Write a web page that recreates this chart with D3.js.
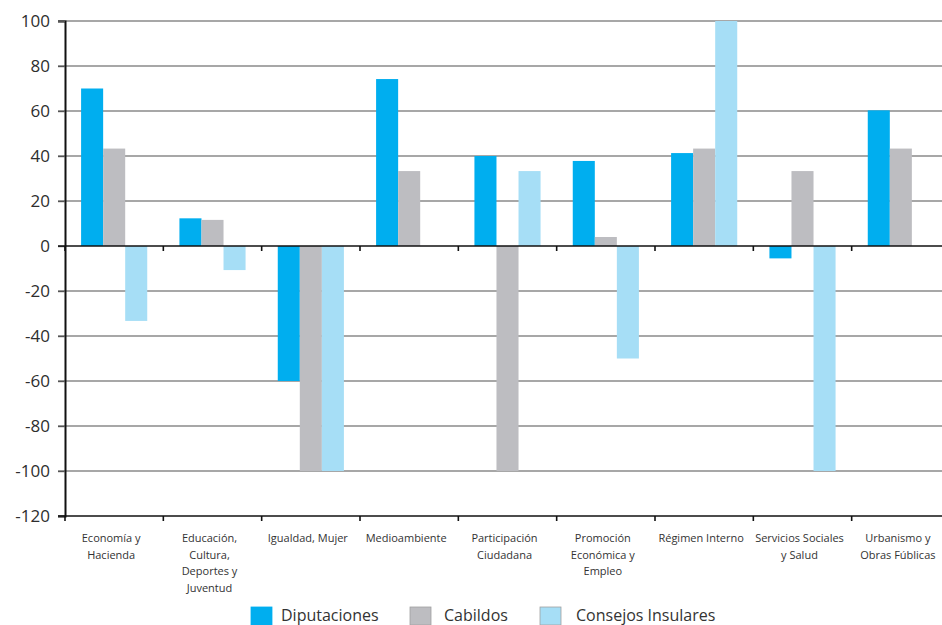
<!DOCTYPE html>
<html>
<head>
<meta charset="utf-8">
<script src="https://cdn.jsdelivr.net/npm/d3@7"></script>
<style>
  html, body { margin: 0; padding: 0; background: #fff; }
  svg { display: block; font-family: "Open Sans", "Liberation Sans", sans-serif; }
</style>
</head>
<body>
<svg id="chart" width="942" height="625"></svg>
<script>
// Categories (each entry is a list of label lines)
const categories = [
  ["Economía y", "Hacienda"],
  ["Educación,", "Cultura,", "Deportes y", "Juventud"],
  ["Igualdad, Mujer"],
  ["Medioambiente"],
  ["Participación", "Ciudadana"],
  ["Promoción", "Económica y", "Empleo"],
  ["Régimen Interno"],
  ["Servicios Sociales", "y Salud"],
  ["Urbanismo y", "Obras Fúblicas"]
];
const seriesNames = ["Diputaciones", "Cabildos", "Consejos Insulares"];
const diputaciones = [70, 12.3, -60, 74.2, 40, 37.8, 41.3, -5.5, 60.3];
const cabildos     = [43.3, 11.6, -100, 33.3, -100, 4, 43.3, 33.3, 43.3];
const consejos     = [-33.3, -10.7, -100, null, 33.3, -50, 100, -100, null];
const yTicks = [-120, -100, -80, -60, -40, -20, 0, 20, 40, 60, 80, 100];

const seriesValues = [diputaciones, cabildos, consejos];
const colors = ["#00aeef", "#bdbdc1", "#a6def6"];

const svg = d3.select("#chart");
const mLeft = 65, mRight = 950, mTop = 21, mBottom = 516;

const x = d3.scaleBand().domain(d3.range(categories.length)).range([mLeft, mRight]).padding(0);
const xs = d3.scaleBand().domain(seriesNames).range([0, x.bandwidth()]).paddingInner(0).paddingOuter(0.73);
const y = d3.scaleLinear().domain([-120, 100]).range([mBottom, mTop]);

// Horizontal gridlines
svg.append("g").selectAll("line")
  .data(yTicks.filter(t => t !== 0 && t !== -120))
  .join("line")
  .attr("x1", mLeft - 7).attr("x2", 942)
  .attr("y1", d => y(d)).attr("y2", d => y(d))
  .attr("stroke", "#8a8a8a").attr("stroke-width", 1.4);

// Bars
const rows = [];
categories.forEach((c, i) => seriesNames.forEach((s, j) => {
  const v = seriesValues[j][i];
  if (v !== null) rows.push({ i, s, j, v });
}));
svg.append("g").selectAll("rect")
  .data(rows)
  .join("rect")
  .attr("x", d => x(d.i) + xs(d.s))
  .attr("width", xs.bandwidth())
  .attr("y", d => y(Math.max(0, d.v)))
  .attr("height", d => Math.abs(y(d.v) - y(0)))
  .attr("fill", d => colors[d.j]);

// Y axis (plain hyphen for negatives)
const yAxis = d3.axisLeft(y).tickValues(yTicks).tickSize(7).tickPadding(8).tickFormat(d => String(d));
const gy = svg.append("g").attr("transform", `translate(${mLeft},0)`).call(yAxis);
gy.select(".domain").attr("stroke", "#111").attr("stroke-width", 2);
gy.selectAll(".tick line").attr("stroke", "#555").attr("stroke-width", 1.4);
gy.selectAll(".tick text").attr("fill", "#2e2e2e").style("font-size", "17px")
  .style("font-family", "'Open Sans', sans-serif");

// Zero line and bottom line with category-boundary ticks
const boundaries = d3.range(categories.length).map(i => x(i)).concat([mRight]);
[0, -120].forEach(v => {
  const g = svg.append("g");
  g.append("line").attr("x1", mLeft - 7).attr("x2", 942)
    .attr("y1", y(v)).attr("y2", y(v))
    .attr("stroke", "#111").attr("stroke-width", 1.6);
  g.selectAll("line.tk").data(boundaries).join("line").attr("class", "tk")
    .attr("x1", d => d).attr("x2", d => d)
    .attr("y1", y(v)).attr("y2", y(v) + 5)
    .attr("stroke", "#111").attr("stroke-width", 1.6);
});

// Category labels
const lab = svg.append("g").selectAll("text")
  .data(categories)
  .join("text")
  .attr("text-anchor", "middle")
  .attr("fill", "#333")
  .style("font-size", "11px");
lab.each(function(lines, i) {
  d3.select(this).selectAll("tspan").data(lines).join("tspan")
    .attr("x", x(i) + x.bandwidth() / 2 - 3)
    .attr("y", (d, k) => 542 + k * 16.5)
    .text(d => d);
});

// Legend
const legendItems = [
  { name: seriesNames[0], sx: 251, tx: 281 },
  { name: seriesNames[1], sx: 410, tx: 444 },
  { name: seriesNames[2], sx: 540, tx: 576 }
];
const lg = svg.append("g");
legendItems.forEach((d, j) => {
  lg.append("rect").attr("x", d.sx).attr("y", 607).attr("width", 21).attr("height", 18)
    .attr("fill", colors[j]).attr("stroke", j === 0 ? colors[0] : "#a0a0a0").attr("stroke-width", 0.8);
  lg.append("text").attr("x", d.tx).attr("y", 620.5).attr("fill", "#333")
    .style("font-size", "16px").text(d.name);
});
</script>
</body>
</html>
